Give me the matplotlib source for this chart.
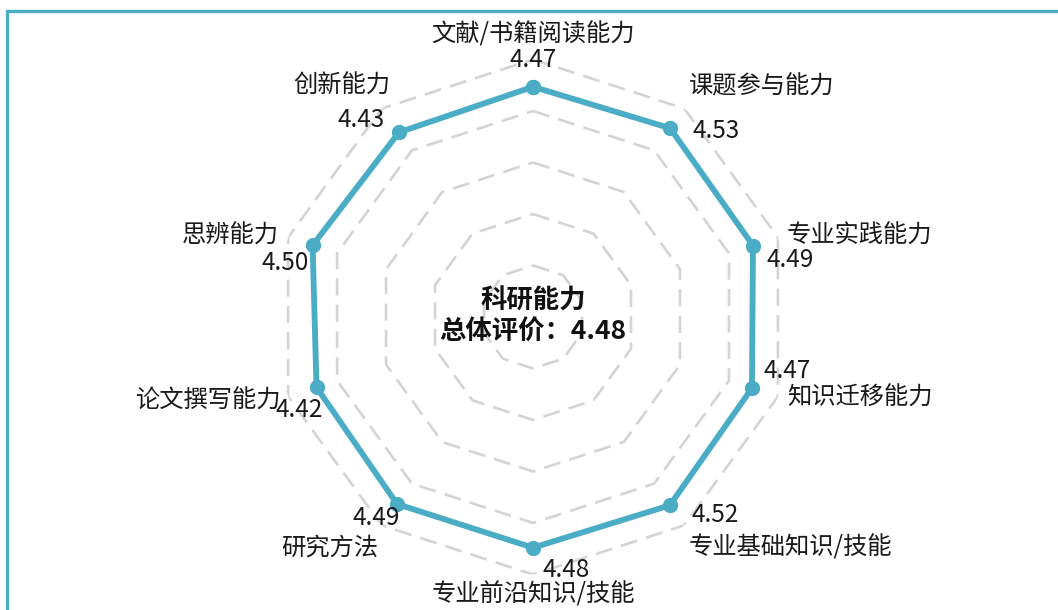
import numpy as np
import matplotlib
matplotlib.use('Agg')
from matplotlib import pyplot as plt
from matplotlib.patches import Rectangle

plt.rcParams['font.family'] = ['Noto Sans CJK SC', 'DejaVu Sans']

categories = ['文献/书籍阅读能力', '课题参与能力', '专业实践能力', '知识迁移能力',
              '专业基础知识/技能', '专业前沿知识/技能', '研究方法', '论文撰写能力',
              '思辨能力', '创新能力']
scores = [4.47, 4.53, 4.49, 4.47, 4.52, 4.48, 4.49, 4.42, 4.50, 4.43]
overall = 4.48
grid_levels = [1, 2, 3, 4, 5]

# label offsets in pixels (dx, dy) from the point, plus alignment
value_pos = [(0, 27, 'center'), (22, -3, 'left'), (14, -14, 'left'), (12, 17, 'left'),
             (22, -10, 'left'), (33, -22, 'center'), (3, -14, 'right'), (6, -23, 'right'),
             (-4, -18, 'right'), (-14, 12, 'right')]
cat_pos = [(0, 52, 'center'), (19, 42, 'left'), (34, 10, 'left'), (35, -10, 'left'),
           (19, -42, 'left'), (0, -47, 'center'), (-19, -44, 'right'), (-36, -13, 'right'),
           (-34, 10, 'right'), (-9, 47, 'right')]

color = '#4bacc6'
n = len(categories)
angles = np.linspace(0, 2 * np.pi, n, endpoint=False)

fig = plt.figure(figsize=(10.58, 6.10), dpi=100)
ax = fig.add_axes([0.2604, 0.0582, 0.4868, 0.8443], polar=True)
ax.set_theta_offset(np.pi / 2)
ax.set_theta_direction(-1)
ax.set_ylim(0, 5)
ax.axis('off')

closed = np.append(angles, angles[0])
for lv in grid_levels:
    ax.plot(closed, [lv] * (n + 1), color='#d4d4d4', lw=1.9, ls=(0, (6.5, 3.5)), zorder=1)

ax.plot(closed, scores + scores[:1], color=color, lw=4.2, marker='o', ms=10, zorder=3,
        clip_on=False)

px = 72 / 100
for i in range(n):
    dx, dy, ha = value_pos[i]
    ax.annotate(f'{scores[i]:.2f}', xy=(angles[i], scores[i]), xytext=(dx * px, dy * px),
                textcoords='offset points', ha=ha, va='center', fontsize=17.5,
                color='#1a1a1a', annotation_clip=False)
    dx, dy, ha = cat_pos[i]
    ax.annotate(categories[i], xy=(angles[i], scores[i]), xytext=(dx * px, dy * px),
                textcoords='offset points', ha=ha, va='center', fontsize=17.5,
                color='#1a1a1a', annotation_clip=False)

ax.text(0, 0, f'科研能力\n总体评价：{overall:.2f}', ha='center', va='center',
        fontsize=19, fontweight='bold', color='#111111', linespacing=1.2,
        transform=ax.transData)

fig.add_artist(Rectangle((7 / 1058, -0.1), 1.2, (1 + 0.1 - 10.5 / 610),
                         transform=fig.transFigure, fill=False, edgecolor=color, lw=2.4))

fig.savefig('out.png', dpi=100)
